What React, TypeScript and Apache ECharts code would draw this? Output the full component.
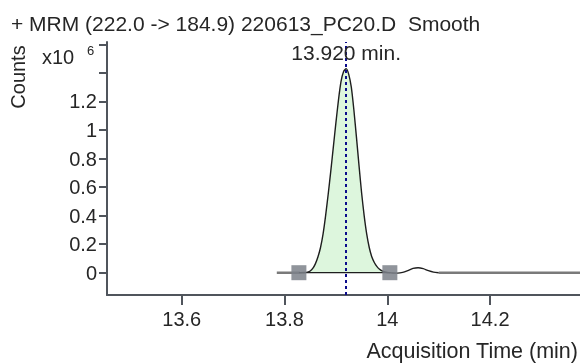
import React, { useEffect, useRef } from "react";
import * as echarts from "echarts";

// Chromatogram: acquisition time (min) vs counts (x10^6)
const times = [
  13.785, 13.8, 13.81, 13.82, 13.83, 13.84, 13.845, 13.85, 13.855, 13.86, 13.865, 13.87, 13.875,
  13.88, 13.885, 13.89, 13.895, 13.9, 13.905, 13.91, 13.915, 13.92, 13.925, 13.93, 13.935, 13.94,
  13.945, 13.95, 13.955, 13.96, 13.965, 13.97, 13.975, 13.98, 13.985, 13.99, 13.995, 14.0, 14.005,
  14.01, 14.02, 14.03, 14.04, 14.05, 14.06, 14.07, 14.08, 14.09, 14.1, 14.11, 14.2, 14.3, 14.375,
];
const counts = [
  0, 0, 0, 0, 0, 0.001, 0.004, 0.012, 0.03, 0.062, 0.11, 0.175, 0.27,
  0.4, 0.55, 0.71, 0.88, 1.05, 1.21, 1.34, 1.41, 1.43, 1.39, 1.3, 1.14, 0.95,
  0.75, 0.56, 0.4, 0.27, 0.175, 0.11, 0.07, 0.043, 0.024, 0.012, 0.005, 0.001, 0,
  -0.002, -0.003, 0.002, 0.015, 0.03, 0.035, 0.028, 0.014, 0.004, 0, 0, 0, 0, 0,
];

const peakTime = 13.92;
const peakApex = 1.43;
const peakLabel = "13.920 min.";
const peakStart = 13.828;
const peakEnd = 14.005;
const innerStart = 13.83;
const innerEnd = 14.1;

const xTicks = [13.6, 13.8, 14, 14.2];
const yTicks = [0, 0.2, 0.4, 0.6, 0.8, 1, 1.2, 1.4, 1.6];
const yLabels = [0, 0.2, 0.4, 0.6, 0.8, 1, 1.2];

const titleText = "+ MRM (222.0 -> 184.9) 220613_PC20.D  Smooth";
const yName = "Counts";
const xName = "Acquisition Time (min)";

const FONT = "'Liberation Sans', Arial, sans-serif";
const TXT = "#262626";
const AX = "#50555c";

export default function App() {
  const ref = useRef<HTMLDivElement>(null);
  useEffect(() => {
    if (!ref.current) return;
    const chart = echarts.init(ref.current, undefined, { renderer: "svg" });
    const pts = times.map((t, i) => [t, counts[i]]);
    const outer = times.map((t, i) =>
      t <= innerStart || t >= innerEnd ? [t, counts[i]] : [t, null]
    );
    const inner = times.map((t, i) =>
      t >= innerStart && t <= innerEnd ? [t, counts[i]] : [t, null]
    );
    const peakPts = pts.filter((p) => p[0] >= peakStart && p[0] <= peakEnd);

    chart.setOption({
      animation: false,
      grid: { left: 107, top: 42, right: 0, bottom: 68, containLabel: false },
      xAxis: {
        type: "value",
        min: 13.4546,
        max: 14.375,
        axisLine: { onZero: false, lineStyle: { color: AX, width: 2 } },
        axisTick: { length: 10, lineStyle: { color: AX, width: 2 }, customValues: xTicks },
        axisLabel: { customValues: xTicks, fontSize: 20, color: TXT, margin: 14, fontFamily: FONT },
        splitLine: { show: false },
      },
      yAxis: {
        type: "value",
        min: -0.1563,
        max: 1.6168,
        axisLine: { show: true, onZero: false, lineStyle: { color: AX, width: 2 } },
        axisTick: { show: true, length: 8, lineStyle: { color: AX, width: 2 }, customValues: yTicks },
        axisLabel: { customValues: yLabels, fontSize: 20, color: TXT, margin: 10, fontFamily: FONT },
        splitLine: { show: false },
      },
      graphic: [
        {
          type: "text",
          x: 11,
          y: 23.5,
          style: { text: titleText, fontSize: 21, fill: TXT, fontFamily: FONT, verticalAlign: "middle" },
        },
        {
          type: "text",
          x: 18,
          y: 77,
          rotation: Math.PI / 2,
          style: { text: yName, fontSize: 20, fill: TXT, fontFamily: FONT, align: "center", verticalAlign: "middle" },
        },
        { type: "text", x: 42, y: 57, style: { text: "x10", fontSize: 20, fill: TXT, fontFamily: FONT, verticalAlign: "middle" } },
        { type: "text", x: 87, y: 50, style: { text: "6", fontSize: 13, fill: TXT, fontFamily: FONT, verticalAlign: "middle" } },
        {
          type: "text",
          x: 578,
          y: 350.5,
          style: { text: xName, fontSize: 21.5, fill: TXT, fontFamily: FONT, align: "right", verticalAlign: "middle" },
        },
      ],
      series: [
        {
          name: "peak",
          type: "line",
          data: peakPts,
          showSymbol: false,
          smooth: 0.2,
          lineStyle: { width: 0 },
          areaStyle: { color: "#ddf6dd", opacity: 1, origin: 0 },
          z: 1,
        },
        {
          name: "outer",
          type: "line",
          data: outer,
          showSymbol: false,
          connectNulls: false,
          lineStyle: { color: "#7a7a7a", width: 2.5 },
          z: 2,
        },
        {
          name: "signal",
          type: "line",
          data: inner,
          showSymbol: false,
          smooth: 0.2,
          connectNulls: false,
          lineStyle: { color: "#1e1e1e", width: 1.4 },
          z: 3,
          markLine: {
            silent: true,
            symbol: "none",
            label: { show: false },
            lineStyle: { color: "#0c0c8c", width: 2, type: [3, 3] },
            data: [{ xAxis: peakTime }],
          },
          markPoint: {
            symbol: "circle",
            symbolSize: 0,
            data: [
              {
                coord: [peakTime, peakApex],
                label: {
                  show: true,
                  formatter: peakLabel,
                  position: "inside",
                  offset: [0, -16],
                  fontSize: 21,
                  color: TXT,
                  fontFamily: FONT,
                },
              },
            ],
          },
        },
        {
          name: "baseline",
          type: "line",
          data: [
            [peakStart, 0],
            [peakEnd, 0],
          ],
          symbol: "rect",
          symbolSize: 15,
          showSymbol: true,
          itemStyle: { color: "rgba(125,129,138,0.85)" },
          lineStyle: { color: "#1e1e1e", width: 1.3 },
          z: 4,
        },
      ],
    });
    return () => chart.dispose();
  }, []);
  return (
    <div
      ref={ref}
      style={{ position: "fixed", left: 0, top: 0, width: 580, height: 363 }}
    />
  );
}
